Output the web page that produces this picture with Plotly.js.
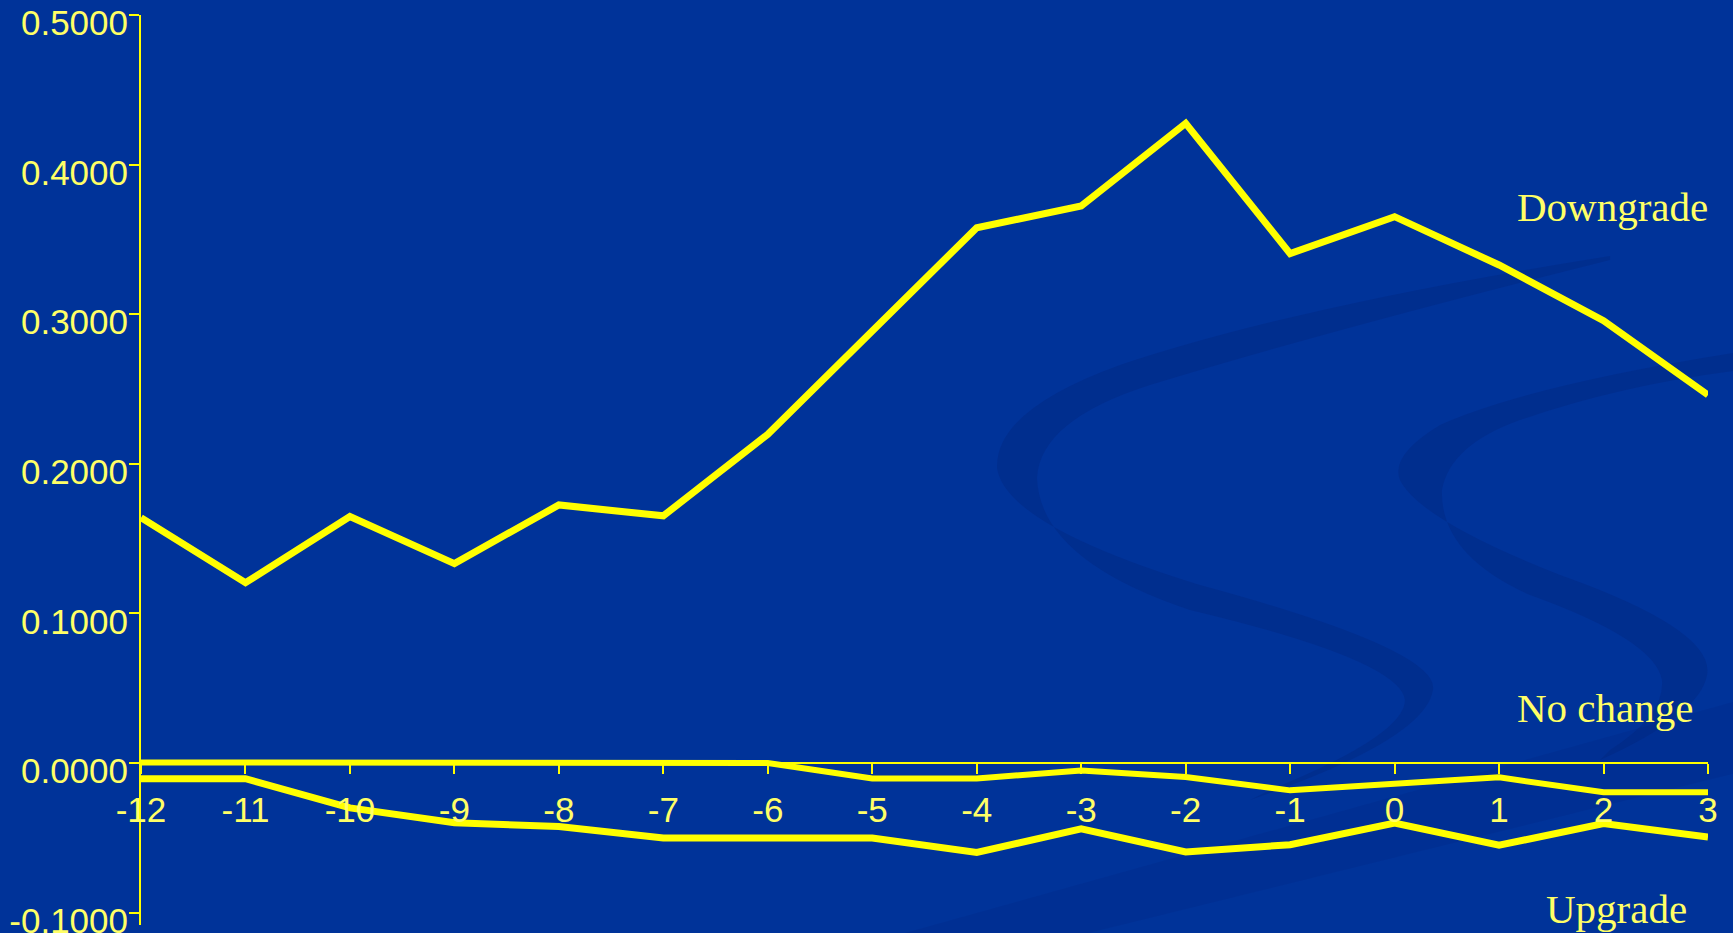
<!DOCTYPE html>
<html>
<head>
<meta charset="utf-8">
<script src="https://cdn.plot.ly/plotly-3.0.1.min.js"></script>
<style>
  html, body { margin: 0; padding: 0; background: #003399; overflow: hidden; }
  #chart { width: 1733px; height: 933px; }
</style>
</head>
<body>
<div id="chart"></div>
<script>
// ---- Data ----
const months = [-12, -11, -10, -9, -8, -7, -6, -5, -4, -3, -2, -1, 0, 1, 2, 3];
const downgrade = [0.1640, 0.1205, 0.1648, 0.1333, 0.1725, 0.1652, 0.2197, 0.2885, 0.3578, 0.3723, 0.4276, 0.3405, 0.3652, 0.3329, 0.2957, 0.2460];
const noChange  = [0.0003, 0.0003, 0.0002, 0.0002, 0.0002, 0.0002, 0.0000, -0.0103, -0.0103, -0.0051, -0.0093, -0.0183, -0.0138, -0.0096, -0.0196, -0.0196];
const upgrade   = [-0.0105, -0.0105, -0.0300, -0.0400, -0.0425, -0.0502, -0.0502, -0.0502, -0.0598, -0.0440, -0.0595, -0.0546, -0.0401, -0.0550, -0.0405, -0.0495];
const seriesNames = ["Downgrade", "No change", "Upgrade"];
const yTicks = [-0.1, 0.0, 0.1, 0.2, 0.3, 0.4, 0.5];
const yTickText = ["-0.1000", "0.0000", "0.1000", "0.2000", "0.3000", "0.4000", "0.5000"];

// ---- Layout geometry ----
const W = 1733, H = 933;
const M = { l: 141, r: 25, t: 15, b: 8 };
const yRange = [-0.1083, 0.5];
const plotW = W - M.l - M.r, plotH = H - M.t - M.b;
const LINE = '#FFFF00', TEXT = '#FFFF66', BG = '#003399';

// pixel -> paper fraction helper for decorative background swooshes
function P(x, y) { return ((x - M.l) / plotW).toFixed(4) + ',' + ((H - M.b - y) / plotH).toFixed(4); }
const swooshA = 'M' + P(1610, 256) + ' Q' + P(1300, 305) + ' ' + P(1120, 365) +
  ' Q' + P(995, 410) + ' ' + P(997, 468) + ' Q' + P(1005, 525) + ' ' + P(1200, 585) +
  ' Q' + P(1440, 650) + ' ' + P(1433, 690) + ' Q' + P(1425, 740) + ' ' + P(1250, 800) +
  ' L' + P(1270, 790) + ' Q' + P(1405, 735) + ' ' + P(1405, 700) + ' Q' + P(1400, 660) + ' ' + P(1190, 610) +
  ' Q' + P(1040, 560) + ' ' + P(1037, 478) + ' Q' + P(1040, 420) + ' ' + P(1150, 385) +
  ' Q' + P(1330, 330) + ' ' + P(1610, 260) + ' Z';
const swooshB = 'M' + P(1740, 352) + ' Q' + P(1530, 385) + ' ' + P(1440, 425) +
  ' Q' + P(1390, 455) + ' ' + P(1400, 480) + ' Q' + P(1420, 520) + ' ' + P(1560, 575) +
  ' Q' + P(1715, 630) + ' ' + P(1707, 675) + ' Q' + P(1700, 715) + ' ' + P(1600, 760) +
  ' L' + P(1610, 750) + ' Q' + P(1665, 715) + ' ' + P(1662, 680) + ' Q' + P(1655, 640) + ' ' + P(1530, 595) +
  ' Q' + P(1440, 555) + ' ' + P(1442, 490) + ' Q' + P(1450, 445) + ' ' + P(1520, 420) +
  ' Q' + P(1620, 385) + ' ' + P(1740, 370) + ' Z';
const swooshC = 'M' + P(1740, 700) + ' L' + P(1740, 772) + ' L' + P(1060, 940) + ' L' + P(880, 940) + ' Z';

const traces = [downgrade, noChange, upgrade].map((vals, i) => ({
  type: 'scatter', mode: 'lines', x: months, y: vals, name: seriesNames[i],
  line: { color: LINE, width: i === 1 ? 6 : 7 },
  hoverinfo: 'x+y+name'
}));

const tickFont = { family: '"Liberation Sans", Arial, sans-serif', size: 35, color: TEXT };
const labFont = { family: '"Liberation Serif", "Times New Roman", serif', size: 41, color: TEXT };

function ann(text, px, py) {
  return { text: text, xref: 'paper', yref: 'paper', x: (px - M.l) / plotW, y: (H - M.b - py) / plotH,
           xanchor: 'left', yanchor: 'middle', showarrow: false, font: labFont };
}

const layout = {
  width: W, height: H,
  margin: M,
  paper_bgcolor: BG,
  plot_bgcolor: 'rgba(0,0,0,0)',
  showlegend: false,
  xaxis: {
    range: [-12, 3], tickvals: months, ticktext: months.map(String),
    anchor: 'free', position: -yRange[0] / (yRange[1] - yRange[0]),
    showline: true, linecolor: LINE, linewidth: 2,
    ticks: 'outside', ticklen: 10, tickwidth: 2, tickcolor: LINE,
    showgrid: false, zeroline: false, tickfont: tickFont,
    ticklabelstandoff: 6, ticklabeloverflow: 'allow'
  },
  yaxis: {
    range: yRange, tickvals: yTicks, ticktext: yTickText,
    showline: true, linecolor: LINE, linewidth: 2,
    ticks: 'outside', ticklen: 10, tickwidth: 2, tickcolor: LINE,
    showgrid: false, zeroline: false, tickfont: tickFont,
    ticklabelshift: 8, ticklabelstandoff: -6, ticklabeloverflow: 'allow'
  },
  shapes: [
    { type: 'path', xref: 'paper', yref: 'paper', path: swooshC, layer: 'below',
      fillcolor: 'rgba(0,30,110,0.14)', line: { width: 0 } },
    { type: 'path', xref: 'paper', yref: 'paper', path: swooshA, layer: 'below',
      fillcolor: 'rgba(0,30,110,0.25)', line: { width: 0 } },
    { type: 'path', xref: 'paper', yref: 'paper', path: swooshB, layer: 'below',
      fillcolor: 'rgba(0,30,110,0.25)', line: { width: 0 } }
  ],
  annotations: [
    ann(seriesNames[0], 1515, 207),
    ann(seriesNames[1], 1515, 708),
    ann(seriesNames[2], 1544, 909)
  ]
};

Plotly.newPlot('chart', traces, layout, { staticPlot: true, displayModeBar: false });
</script>
</body>
</html>
